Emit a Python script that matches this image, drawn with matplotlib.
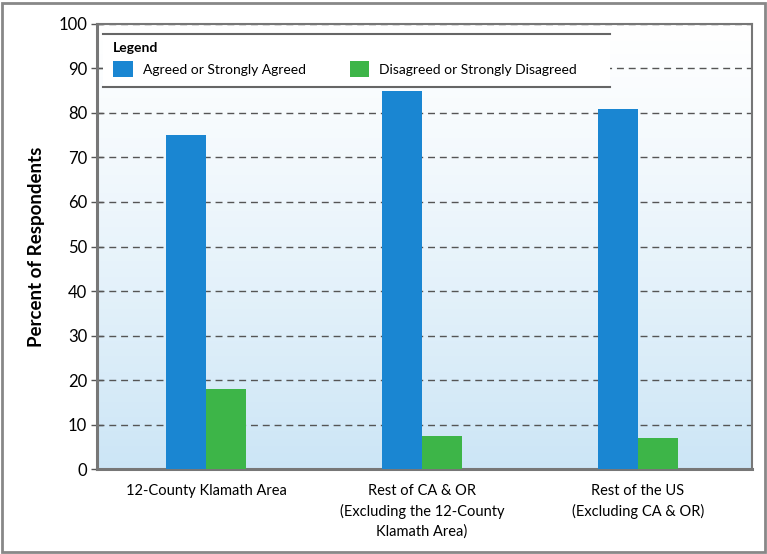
import matplotlib.pyplot as plt
import numpy as np
from matplotlib.patches import Rectangle
from matplotlib.lines import Line2D

# data
categories = ['12-County Klamath Area',
              'Rest of CA & OR\n(Excluding the 12-County\nKlamath Area)',
              'Rest of the US\n(Excluding CA & OR)']
agreed = [75, 85, 81]
disagreed = [18, 7.5, 7]
seriesNames = ['Agreed or Strongly Agreed', 'Disagreed or Strongly Disagreed']
yTicks = list(range(0, 101, 10))

blue = '#1a86d2'
green = '#3db548'
fam = ['Lato', 'DejaVu Sans']

fig = plt.figure(figsize=(7.67, 5.54), dpi=100)
ax = fig.add_axes([0.1265, 0.1534, 0.8539, 0.8033])

x = np.arange(len(categories))
w = 0.185
ax.bar(x - w / 2, agreed, width=w, color=blue, zorder=3, label=seriesNames[0])
ax.bar(x + w / 2, disagreed, width=w, color=green, zorder=3, label=seriesNames[1])

ax.set_xlim(-0.505, 2.528)

# gradient background: white at the top, light blue at the bottom
grad = np.linspace(0, 1, 256).reshape(-1, 1)
top = np.array([1.0, 1.0, 1.0])
bot = np.array([0.80, 0.90, 0.965])
img = top + (bot - top) * grad[..., None] ** 1.2
ax.imshow(img[::-1], extent=[-0.505, 2.528, 0, 100], origin='lower', aspect='auto', zorder=0)
ax.set_ylim(0, 100)

ax.set_yticks(yTicks)
ax.grid(axis='y', linestyle=(0, (5, 3.5)), color='#555555', linewidth=1.0, zorder=1)
ax.set_axisbelow(True)
ax.tick_params(axis='y', direction='inout', length=8, width=1.0, color='#555555',
               labelsize=12, pad=3)
ax.tick_params(axis='x', length=0, pad=11)
ax.set_xticks(x)
ax.set_xticklabels(categories, fontsize=10.5, family=fam, linespacing=1.45)
for lab in ax.get_yticklabels():
    lab.set_family(fam)

for s in ax.spines.values():
    s.set_color('#777777')
    s.set_linewidth(1.5)
ax.spines['left'].set_linewidth(2.2)
ax.spines['bottom'].set_linewidth(2.2)

ax.set_ylabel('Percent of Respondents', fontsize=13.5, fontweight='bold',
              family=fam, labelpad=10)

# legend box: white panel with top/bottom rules
lx0, lx1 = (103 - 97) / 655, (610 - 97) / 655
ly0, ly1 = (469 - 87) / 445, (469 - 34) / 445
ax.add_patch(Rectangle((lx0, ly0), lx1 - lx0, ly1 - ly0, transform=ax.transAxes,
                       facecolor='white', edgecolor='none', zorder=4))
for yy in (ly0, ly1):
    ax.add_line(Line2D([lx0, lx1], [yy, yy], transform=ax.transAxes, color='#666666',
                       linewidth=1.5, zorder=5))
leg = ax.legend(ncol=2, loc='upper left', bbox_to_anchor=((105 - 97) / 655, (469 - 34) / 445),
                title='Legend', alignment='left', frameon=False,
                prop={'family': fam, 'size': 10},
                handlelength=1.4, handleheight=1.4, handletextpad=0.7, columnspacing=3.2,
                borderpad=0.1, labelspacing=0.5,
                title_fontproperties={'family': fam, 'weight': 'bold', 'size': 10})
leg.set_zorder(6)

# outer frame around the figure
fig.add_artist(Rectangle((0.003, 0.003), 0.994, 0.992, transform=fig.transFigure,
                         facecolor='none', edgecolor='#888888', linewidth=2))

fig.savefig('out.png', dpi=100)
